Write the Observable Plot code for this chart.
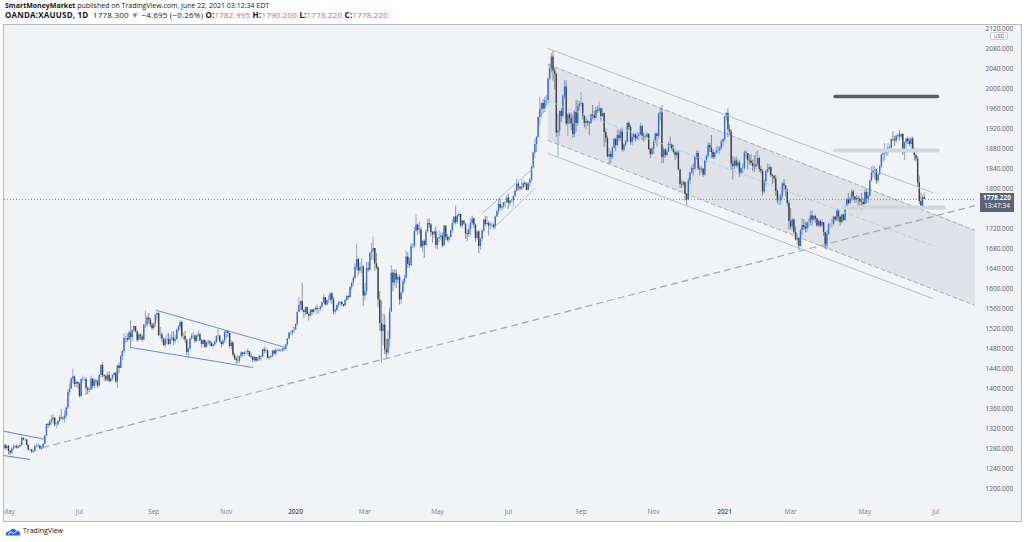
<!DOCTYPE html>
<html><head><meta charset="utf-8">
<script src="https://cdn.jsdelivr.net/npm/d3@7"></script>
<script src="https://cdn.jsdelivr.net/npm/@observablehq/plot@0.6"></script>
<style>
html,body{margin:0;padding:0;background:#fff;width:1024px;height:542px;overflow:hidden;font-family:"Open Sans","Liberation Sans",sans-serif;}
#hdr{position:absolute;left:5px;top:1px;color:#131722;white-space:nowrap;}
#hdr div{height:9px;line-height:9px;}
#hdr b{font-weight:700}
#l1{font-size:7px;}
#l2{font-size:8px;letter-spacing:0.2px;}
.red{color:#f7525f}
#bg{position:absolute;left:3px;top:24px;width:1019px;height:498px;background:#f2f3f7;}
#chart{position:absolute;left:0;top:24px;width:1024px;height:498px;}
#chart svg{position:absolute;left:0;top:0;clip-path:inset(0 0 0 4px);}
#border{position:absolute;left:3px;top:24px;width:1019px;height:498px;border:1px solid #b8bbc4;box-sizing:border-box;pointer-events:none;}
#tag{position:absolute;left:980px;width:34px;height:19px;background:#5d6372;color:#fff;font-size:6.5px;line-height:8.5px;text-align:center;padding-top:1px;box-sizing:border-box;}
#usd{position:absolute;left:990px;top:32px;width:18px;height:8px;background:#fff;border:1px solid #c9ccd4;border-radius:2px;box-sizing:border-box;font-size:5.5px;line-height:6px;text-align:center;color:#50535e;}
#foot{position:absolute;left:5px;top:526px;font-size:7px;color:#131722;line-height:10px;white-space:nowrap;}
#foot svg{vertical-align:middle;margin-right:2px}
</style></head>
<body>
<div id="hdr">
<div id="l1"><b>SmartMoneyMarket</b> published on TradingView.com, June 22, 2021 03:12:34 EDT</div>
<div id="l2"><b>OANDA:XAUUSD, 1D</b>&nbsp; 1778.300 <span class="red">▼</span> −4.695 (−0.26%) <b>O:</b><span class="red">1782.995</span> <b>H:</b><span class="red">1790.200</span> <b>L:</b><span class="red">1778.220</span> <b>C:</b><span class="red">1778.220</span></div>
</div>
<div id="bg"></div>
<div id="chart"></div>
<div id="border"></div>
<div id="usd">USD</div>
<div id="foot"><svg width="16" height="9" viewBox="0 0 16 9"><path d="M1 8.5 C0 6 2 4 4.5 4.6 C5.5 1.5 9.5 0.8 11 3.6 C13.5 3 15.8 5.3 15 8.5 Z" fill="#2962ff"/><path d="M3 7.5 L6 4.8 L8.5 6.5 L12.5 3.5" stroke="#fff" stroke-width="1" fill="none"/></svg>TradingView</div>
<script>
// ---------------- data (daily XAUUSD) ----------------
const months = ["2019-04","2019-05","2019-06","2019-07","2019-08","2019-09","2019-10","2019-11","2019-12",
"2020-01","2020-02","2020-03","2020-04","2020-05","2020-06","2020-07","2020-08","2020-09","2020-10","2020-11","2020-12",
"2021-01","2021-02","2021-03","2021-04","2021-05","2021-06"];
const firstOpen = 1272;
const closeP = [
[1276,1279,1286,1280,1284],
[1274,1271,1279,1282,1284,1281,1283,1286,1300,1297,1297,1286,1277,1277,1273,1274,1284,1284,1285,1279,1280,1288,1305],
[1328,1326,1333,1337,1341,1327,1327,1334,1342,1341,1339,1345,1361,1392,1399,1419,1423,1408,1412,1409],
[1384,1418,1418,1418,1400,1396,1397,1419,1404,1415,1413,1405,1426,1446,1426,1424,1417,1426,1414,1419,1426,1430,1413],
[1445,1440,1464,1474,1500,1500,1497,1511,1502,1516,1524,1513,1496,1507,1503,1497,1527,1527,1541,1537,1527,1520],
[1529,1547,1550,1506,1507,1499,1486,1497,1498,1488,1498,1501,1494,1498,1516,1522,1532,1504,1504,1497,1472],
[1479,1499,1505,1505,1494,1505,1507,1495,1488,1496,1482,1491,1493,1490,1484,1487,1493,1504,1505,1493,1488,1495,1513],
[1514,1510,1484,1491,1467,1459,1456,1455,1464,1471,1468,1472,1472,1474,1464,1462,1456,1462,1455,1458,1464],
[1463,1477,1474,1475,1460,1462,1464,1475,1469,1476,1476,1475,1475,1479,1478,1487,1499,1511,1511,1515,1517],
[1528,1552,1566,1574,1556,1552,1562,1548,1545,1557,1552,1557,1560,1558,1558,1563,1571,1582,1567,1576,1576,1589],
[1577,1553,1556,1566,1570,1572,1568,1565,1576,1584,1582,1602,1611,1620,1643,1658,1635,1642,1643,1585],
[1594,1640,1637,1671,1673,1680,1649,1641,1577,1530,1514,1527,1477,1471,1498,1553,1631,1611,1630,1617,1622,1577],
[1591,1613,1620,1663,1648,1646,1684,1684,1714,1727,1716,1717,1683,1694,1686,1713,1730,1727,1712,1707,1713,1686],
[1700,1702,1705,1685,1725,1702,1697,1702,1715,1730,1743,1732,1745,1748,1725,1735,1729,1710,1708,1718,1730],
[1739,1727,1700,1713,1684,1698,1715,1737,1728,1730,1725,1727,1727,1722,1743,1754,1768,1761,1763,1771,1772,1781],
[1770,1775,1775,1784,1795,1809,1803,1799,1802,1810,1808,1796,1810,1817,1842,1871,1888,1902,1942,1958,1970,1959,1975],
[1976,2019,2039,2063,2035,2028,1911,1915,1954,1944,1985,2003,1929,1947,1940,1929,1908,1954,1930,1964,1968],
[1970,1944,1930,1934,1931,1930,1947,1945,1940,1956,1955,1959,1944,1950,1912,1900,1863,1868,1862,1881,1898,1886],
[1906,1900,1913,1877,1887,1893,1930,1922,1892,1902,1908,1899,1904,1907,1924,1904,1902,1902,1908,1878,1868,1879],
[1895,1909,1904,1949,1951,1862,1877,1866,1873,1888,1887,1879,1872,1866,1871,1837,1808,1807,1812,1788,1777],
[1815,1831,1840,1839,1862,1870,1839,1837,1839,1827,1855,1864,1886,1881,1872,1862,1871,1875,1876,1880,1893,1898],
[1943,1950,1918,1913,1849,1844,1855,1845,1851,1828,1840,1840,1871,1870,1856,1855,1850,1844,1843,1848],
[1860,1838,1834,1793,1813,1834,1838,1842,1826,1824,1819,1794,1775,1775,1784,1809,1805,1797,1770,1734],
[1723,1737,1712,1697,1700,1684,1716,1726,1722,1719,1731,1731,1745,1737,1744,1739,1725,1734,1725,1732,1712,1685,1708],
[1728,1728,1728,1743,1737,1756,1743,1732,1747,1736,1764,1777,1770,1779,1793,1783,1777,1780,1778,1773,1772,1768],
[1792,1779,1785,1815,1831,1836,1837,1815,1827,1844,1867,1869,1870,1877,1881,1881,1898,1897,1895,1904,1906],
[1903,1908,1871,1891,1899,1894,1888,1899,1877,1866,1859,1811,1774,1764,1782,1778.22]
];
const highP = [
[1281,1282,1288,1289,1287],
[1286,1276,1281,1288,1286,1287,1286,1290,1303,1302,1300,1298,1288,1279,1278,1277,1286,1289,1289,1286,1284,1290,1306],
[1329,1331,1337,1346,1348,1340,1331,1336,1346,1358,1343,1355,1363,1397,1411,1422,1439,1425,1417,1413],
[1411,1420,1425,1421,1422,1403,1401,1425,1420,1417,1419,1416,1428,1448,1452,1427,1428,1432,1434,1421,1427,1432,1433],
[1447,1451,1466,1475,1510,1504,1509,1515,1535,1518,1525,1523,1515,1510,1509,1507,1528,1555,1545,1550,1540,1531],
[1530,1547,1557,1551,1522,1511,1500,1502,1509,1510,1506,1513,1514,1507,1519,1526,1535,1535,1511,1514,1497],
[1481,1500,1510,1512,1507,1507,1515,1511,1498,1498,1497,1493,1497,1496,1493,1490,1495,1505,1518,1506,1493,1497,1514],
[1516,1516,1511,1496,1494,1470,1463,1466,1465,1474,1472,1474,1476,1479,1474,1471,1464,1465,1462,1462,1466],
[1465,1478,1483,1481,1477,1465,1466,1476,1477,1480,1479,1479,1478,1480,1482,1487,1499,1512,1514,1516,1523],
[1529,1553,1582,1575,1611,1557,1563,1563,1551,1557,1558,1558,1563,1567,1560,1565,1574,1588,1582,1577,1585,1592],
[1592,1583,1560,1567,1574,1574,1574,1568,1578,1585,1586,1604,1612,1624,1649,1689,1660,1652,1660,1646],
[1610,1652,1652,1671,1690,1703,1675,1670,1644,1594,1575,1549,1547,1499,1515,1561,1646,1637,1638,1637,1627,1627],
[1592,1617,1626,1675,1672,1661,1690,1690,1722,1747,1729,1733,1721,1696,1697,1718,1738,1739,1730,1714,1717,1723],
[1702,1715,1711,1711,1726,1723,1708,1706,1718,1737,1744,1765,1748,1751,1748,1737,1735,1729,1717,1727,1739],
[1745,1742,1729,1715,1716,1701,1718,1738,1745,1744,1734,1733,1731,1729,1745,1755,1779,1779,1767,1772,1773,1786],
[1789,1776,1777,1785,1797,1818,1811,1803,1817,1813,1814,1812,1811,1820,1844,1873,1898,1904,1944,1981,1971,1978,1983],
[1986,2020,2049,2070,2075,2040,2031,1948,1956,1959,1988,2016,2015,1950,1951,1951,1947,1956,1976,1976,1974],
[1992,1971,1947,1942,1937,1934,1950,1966,1955,1962,1965,1973,1961,1960,1951,1919,1905,1880,1874,1883,1901,1900],
[1917,1917,1919,1921,1889,1896,1932,1934,1926,1909,1912,1910,1912,1912,1931,1927,1911,1907,1912,1910,1880,1882],
[1897,1911,1911,1951,1960,1966,1882,1880,1877,1893,1903,1889,1886,1875,1875,1875,1839,1815,1815,1813,1790],
[1820,1832,1845,1849,1865,1875,1875,1845,1843,1838,1856,1867,1892,1890,1906,1878,1872,1883,1884,1884,1897,1900],
[1944,1952,1959,1927,1917,1864,1861,1863,1859,1855,1841,1848,1875,1875,1870,1867,1868,1857,1866,1873],
[1875,1863,1845,1838,1818,1836,1849,1848,1843,1828,1826,1826,1798,1788,1789,1812,1817,1805,1798,1775],
[1760,1740,1739,1723,1709,1700,1718,1739,1738,1732,1734,1740,1755,1755,1746,1747,1741,1737,1737,1738,1732,1712,1716],
[1731,1730,1738,1745,1743,1759,1758,1745,1749,1748,1766,1780,1790,1782,1797,1797,1784,1786,1784,1781,1790,1780],
[1798,1799,1793,1816,1843,1845,1844,1839,1829,1846,1869,1872,1890,1878,1890,1885,1899,1913,1905,1907,1910],
[1916,1910,1910,1893,1900,1903,1900,1903,1903,1880,1869,1864,1825,1791,1786,1790.2]
];
const lowP = [
[1266,1271,1276,1277,1277],
[1267,1266,1268,1276,1279,1279,1279,1281,1284,1295,1294,1285,1275,1273,1270,1270,1273,1281,1282,1278,1276,1278,1287],
[1305,1320,1323,1327,1329,1323,1319,1325,1332,1337,1336,1331,1341,1358,1385,1398,1410,1402,1402,1400],
[1381,1381,1411,1414,1386,1388,1392,1396,1399,1400,1405,1400,1403,1422,1421,1415,1412,1414,1411,1412,1415,1423,1410],
[1400,1429,1440,1456,1470,1490,1492,1496,1480,1493,1512,1511,1492,1496,1496,1493,1495,1520,1522,1529,1522,1516],
[1517,1522,1535,1504,1500,1491,1484,1481,1487,1486,1487,1495,1485,1489,1496,1512,1516,1500,1496,1490,1466],
[1459,1477,1497,1498,1490,1492,1502,1494,1481,1487,1480,1481,1487,1484,1483,1481,1485,1490,1497,1492,1481,1485,1490],
[1500,1502,1480,1478,1464,1456,1449,1449,1450,1460,1463,1464,1468,1466,1462,1459,1452,1452,1453,1453,1455],
[1455,1461,1469,1470,1459,1457,1459,1462,1466,1465,1473,1473,1472,1473,1474,1477,1484,1498,1506,1505,1510],
[1517,1525,1552,1556,1553,1540,1545,1548,1535,1543,1546,1550,1555,1548,1549,1554,1560,1571,1566,1565,1570,1572],
[1568,1548,1547,1554,1561,1565,1564,1562,1564,1574,1577,1580,1597,1604,1617,1636,1625,1630,1629,1564],
[1575,1586,1632,1634,1656,1655,1634,1637,1561,1515,1451,1485,1467,1460,1466,1481,1552,1593,1605,1600,1610,1567],
[1568,1591,1608,1620,1640,1641,1644,1680,1680,1711,1706,1709,1680,1672,1660,1685,1711,1720,1703,1691,1700,1679],
[1677,1691,1695,1681,1684,1695,1693,1691,1701,1710,1727,1727,1728,1742,1722,1719,1726,1698,1693,1702,1706],
[1726,1720,1692,1696,1670,1676,1694,1712,1724,1725,1705,1717,1721,1717,1718,1742,1747,1757,1754,1759,1761,1770],
[1758,1764,1771,1763,1781,1793,1795,1795,1796,1799,1803,1795,1796,1802,1812,1840,1860,1872,1900,1925,1941,1948,1952],
[1964,1969,2016,2031,2015,1997,1902,1863,1904,1932,1940,1979,1925,1904,1928,1916,1900,1902,1913,1924,1954],
[1962,1937,1921,1917,1924,1906,1928,1937,1935,1939,1950,1951,1933,1942,1882,1891,1861,1848,1850,1858,1879,1873],
[1883,1894,1895,1873,1873,1883,1891,1916,1887,1886,1896,1893,1897,1895,1907,1896,1893,1897,1900,1876,1860,1866],
[1868,1890,1883,1899,1935,1850,1850,1860,1863,1872,1880,1875,1869,1856,1859,1836,1800,1800,1804,1775,1764],
[1776,1808,1829,1825,1835,1857,1836,1825,1832,1822,1825,1851,1860,1872,1860,1858,1859,1869,1870,1869,1876,1883],
[1893,1935,1902,1906,1836,1817,1838,1842,1839,1822,1828,1830,1836,1859,1837,1847,1845,1834,1832,1837],
[1843,1832,1829,1785,1790,1805,1830,1831,1822,1808,1811,1784,1769,1766,1766,1779,1794,1784,1765,1717],
[1717,1717,1709,1695,1687,1676,1683,1707,1716,1711,1712,1721,1725,1725,1734,1730,1722,1722,1721,1722,1704,1678,1677],
[1706,1723,1720,1725,1733,1734,1733,1724,1729,1734,1735,1760,1767,1767,1774,1775,1770,1771,1764,1765,1756,1759],
[1767,1770,1771,1783,1813,1820,1817,1808,1810,1826,1840,1852,1855,1864,1866,1874,1878,1893,1884,1891,1898],
[1895,1899,1866,1856,1870,1888,1884,1875,1875,1855,1853,1802,1768,1761,1761,1778.22]
];
const lastPrice = 1778.22;
const lastTime = "13:47:34";

// axis ticks (1760 sits under the last-price tag, as in the original)
const priceTicks = [1200,1240,1280,1320,1360,1400,1440,1480,1520,1560,1600,1640,1680,1720,1800,1840,1880,1920,1960,2000,2040,2080,2120];
const tickMonths = ["2019-05","2019-07","2019-09","2019-11","2020-01","2020-03","2020-05","2020-07","2020-09","2020-11","2021-01","2021-03","2021-05","2021-07"];
const tickLabels = ["May","Jul","Sep","Nov","2020","Mar","May","Jul","Sep","Nov","2021","Mar","May","Jul"];

// drawings (date, price)
const leftChanUpper = [["2019-04-24",1316],["2019-05-30",1299]];
const leftChanLower = [["2019-04-24",1267],["2019-05-20",1258]];
const wedgeUpper = [["2019-09-04",1556],["2019-12-23",1482]];
const wedgeLower = [["2019-08-13",1482],["2019-11-25",1442]];
const riseUpper = [["2020-06-09",1750],["2020-07-23",1844]];
const riseLower = [["2020-06-19",1724],["2020-07-23",1800]];
const outerUpper = [["2020-08-04",2080],["2021-06-29",1792]];
const outerLower = [["2020-08-04",1870],["2021-06-29",1580]];
const outerMid = [["2020-08-04",1975],["2021-06-29",1686]];
const shadeTop = [["2020-08-04",2048],["2021-08-04",1716]];
const shadeBottom = [["2020-08-04",1896],["2021-08-04",1566]];
const longTrend = [["2019-05-30",1282],["2021-08-04",1766]];
const levelDark = [["2021-04-07",1984],["2021-07-02",1984]];
const levelHigh = [["2021-04-07",1876],["2021-07-02",1876]];
const levelLow = [["2021-04-14",1762],["2021-07-08",1762]];

// ---------------- trading calendar ----------------
const fmtDay = d3.utcFormat("%Y-%m-%d"), fmtMon = d3.utcFormat("%Y-%m"), fmtMD = d3.utcFormat("%m-%d");
const cal = d3.utcDays(new Date(Date.UTC(2019,3,24)), new Date(Date.UTC(2021,8,1)))
  .filter(d => d.getUTCDay() % 6 !== 0 && fmtMD(d) !== "12-25" && fmtMD(d) !== "01-01");
const dayIndex = new Map(cal.map((d,i) => [fmtDay(d), i]));
const monthDays = d3.group(cal.map((d,i) => ({m: fmtMon(d), i})), r => r.m);
const idx = s => dayIndex.get(s);

const rows = [];
let prev = firstOpen;
months.forEach((m,k) => {
  const days = monthDays.get(m);
  closeP[k].forEach((c,j) => {
    const o = prev;
    rows.push({i: days[j].i, open: o, close: c,
      high: Math.max(highP[k][j], o, c), low: Math.min(lowP[k][j], o, c), up: c >= o});
    prev = c;
  });
});
const seg = pts => pts.map(([d,p]) => ({i: idx(d), p}));
const ticks = tickMonths.map((m,k) => ({i: monthDays.get(m)[0].i, label: tickLabels[k], year: /^\d{4}$/.test(tickLabels[k])}));
const shade = seg(shadeTop).map((t,j) => ({i: t.i, top: t.p, bot: seg(shadeBottom)[j].p}));

const UP = "#2f6fdf", DOWN = "#3d4149";
const line = (pts, o) => Plot.line(seg(pts), {x: "i", y: "p", clip: true, strokeWidth: 1, ...o});

const plot = Plot.plot({
  width: 1024, height: 498,
  marginLeft: 4, marginRight: 49, marginTop: 0, marginBottom: 17,
  style: {background: "transparent", fontFamily: "'Open Sans', sans-serif", overflow: "visible"},
  x: {type: "linear", domain: [2.58, 591.06], axis: null},
  y: {domain: [1166, 2128], axis: null},
  marks: [
    Plot.areaY(shade, {x: "i", y1: "bot", y2: "top", fill: "#d3d6dd", fillOpacity: 0.62, clip: true}),
    line(shadeTop, {stroke: "#a9acb5", strokeDasharray: "4,3"}),
    line(shadeBottom, {stroke: "#a9acb5", strokeDasharray: "4,3"}),
    Plot.ruleY([lastPrice], {stroke: "#8a8d96", strokeDasharray: "1,2", strokeWidth: 1}),
    Plot.ruleX(rows, {x: "i", y1: "low", y2: "high", stroke: d => d.up ? UP : DOWN, strokeOpacity: 0.55, strokeWidth: 1, clip: true}),
    Plot.ruleX(rows, {x: "i", y1: "open", y2: "close", stroke: d => d.up ? UP : DOWN, strokeWidth: 1.4, clip: true}),
    line(longTrend, {stroke: "#a3a6af", strokeDasharray: "6,5", strokeWidth: 1.2}),
    line(outerUpper, {stroke: "#b9bcc4"}),
    line(outerLower, {stroke: "#b9bcc4"}),
    line(outerMid, {stroke: "#a9cff6", strokeDasharray: "4,3"}),
    line(leftChanUpper, {stroke: "#4f86e8"}),
    line(leftChanLower, {stroke: "#4f86e8"}),
    line(wedgeUpper, {stroke: "#5b8fea"}),
    line(wedgeLower, {stroke: "#5b8fea"}),
    line(riseUpper, {stroke: "#9cc0f4"}),
    line(riseLower, {stroke: "#9cc0f4"}),
    line(levelDark, {stroke: "#5a5d66", strokeWidth: 3.5}),
    line(levelHigh, {stroke: "#d3d6dd", strokeWidth: 4}),
    line(levelLow, {stroke: "#d3d6dd", strokeWidth: 4}),
    Plot.text(priceTicks, {y: d => d, text: d => d.toFixed(3), frameAnchor: "right", dx: 10, textAnchor: "start", fontSize: 6.5, fill: "#5d606b"}),
    Plot.text(ticks.filter(t => !t.year), {x: "i", text: "label", frameAnchor: "bottom", dy: 8, fontSize: 6.5, fill: "#7b7e88"}),
    Plot.text(ticks.filter(t => t.year), {x: "i", text: "label", frameAnchor: "bottom", dy: 8, fontSize: 6.5, fill: "#50535e", fontWeight: 600})
  ]
});
document.getElementById("chart").appendChild(plot);

// last-price tag on the price axis
const yLast = plot.scale("y").apply(lastPrice);
const tag = document.createElement("div");
tag.id = "tag";
tag.innerHTML = "<b>" + lastPrice.toFixed(3) + "</b><br>" + lastTime;
tag.style.top = (24 + yLast - 6) + "px";
document.body.appendChild(tag);
</script>
</body></html>
